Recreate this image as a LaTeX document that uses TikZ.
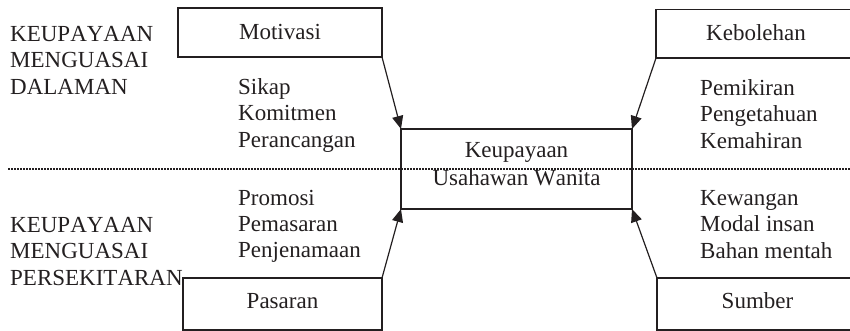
\documentclass[tikz,border=0pt]{standalone}
\usepackage{fontspec}
\setmainfont{Liberation Serif}[Kerning=Off]
\usetikzlibrary{arrows.meta}
\definecolor{ink}{HTML}{231F20}
\begin{document}
\begin{tikzpicture}[x=1pt,y=-1pt,
  every node/.style={text=ink},
  box/.style={draw=ink, line width=1.3pt, inner sep=0pt, outer sep=0pt},
  % multi-line text: the base anchor sits on the last line
  txt/.style={anchor=base west, inner sep=0pt, align=left,
              font=\fontsize{23}{26.45}\selectfont},
  boxcap/.style={anchor=base, inner sep=0pt, font=\fontsize{23}{26.45}\selectfont},
  link/.style={draw=ink, line width=1.2pt, -{Triangle[length=13pt,width=11pt]}},
  divider/.style={draw=ink, line width=1.2pt, dash pattern=on 1.5pt off 1.5pt}]
\clip (0,0) rectangle (850,330);

% boxes
\node[box, minimum width=204pt, minimum height=49pt]   (mot)  at (280,32.5)   {};
\node[box, minimum width=200pt, minimum height=48.5pt] (keb)  at (756,33.75)  {};
\node[box, minimum width=231pt, minimum height=80pt]   (core) at (516.5,169)  {};
\node[box, minimum width=199pt, minimum height=52pt]   (pas)  at (282.5,304)  {};
\node[box, minimum width=201pt, minimum height=52pt]   (sum)  at (757.5,304)  {};

% box captions
\node[boxcap] (motT)  at (280,39.3)    {Motivasi};
\node[boxcap] (kebT)  at (756,40)      {Kebolehan};
\node[boxcap] (coreA) at (516.5,157)   {Keupayaan};
\node[boxcap] (coreB) at (516.5,185.7) {Usahawan Wanita};
\node[boxcap] (pasT)  at (282.5,308.3) {Pasaran};
\node[boxcap] (sumT)  at (757.5,308.3) {Sumber};

% dividing line between inner and outer capability
\coordinate (dl) at (8,169);
\coordinate (dr) at (850,169);
\draw[divider] (dl) -- (dr);

% side headings
\node[txt] (inner) at (10,94.3) {KEUPAYAAN\\MENGUASAI\\DALAMAN};
\node[txt] (outer) at (10,285)  {KEUPAYAAN\\MENGUASAI\\PERSEKITARAN};

% item lists
\node[txt] (motL) at (238,147.2) {Sikap\\Komitmen\\Perancangan};
\node[txt] (kebL) at (700,148.4) {Pemikiran\\Pengetahuan\\Kemahiran};
\node[txt] (pasL) at (238,257.9) {Promosi\\Pemasaran\\Penjenamaan};
\node[txt] (sumL) at (700,258.4) {Kewangan\\Modal insan\\Bahan mentah};

% connectors
\draw[link] (mot.south east) -- (core.north west);
\draw[link] (keb.south west) -- (core.north east);
\draw[link] (pas.north east) -- (core.south west);
\draw[link] (sum.north west) -- (core.south east);
\end{tikzpicture}
\end{document}
